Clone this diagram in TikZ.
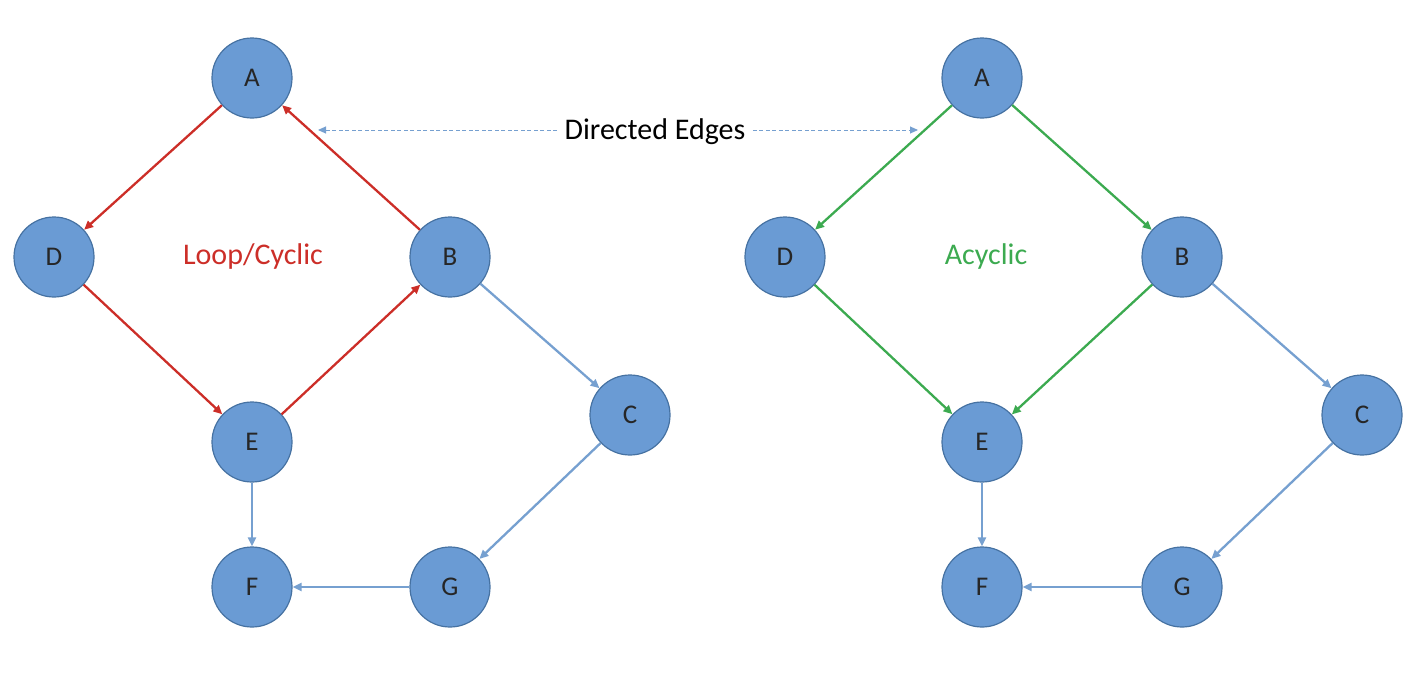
\documentclass[tikz,border=0pt]{standalone}
\usepackage{fontspec}
\setmainfont{Carlito}
\usepackage{tikz}
\usetikzlibrary{arrows.meta, positioning}
\definecolor{nodeblue}{RGB}{106,155,212}
\definecolor{nodeline}{RGB}{70,114,162}
\definecolor{edgeblue}{RGB}{118,160,208}
\definecolor{loopred}{RGB}{204,46,40}
\definecolor{okgreen}{RGB}{60,170,80}
\tikzstyle{vertex} = [circle, minimum size=80pt, inner sep=0pt, draw=nodeline, line width=1.2pt, fill=nodeblue, text=black!85, font={\fontsize{27pt}{30}\selectfont}]
\tikzstyle{edge} = [line width=2.3pt, -{Triangle[length=9pt, width=8pt]}]
\tikzstyle{redge} = [edge, draw=loopred, -{Triangle[length=9pt, width=8pt, fill=loopred]}]
\tikzstyle{gedge} = [edge, draw=okgreen, -{Triangle[length=9pt, width=8pt, fill=okgreen]}]
\tikzstyle{bedge} = [edge, draw=edgeblue, -{Triangle[length=9pt, width=8pt, fill=edgeblue]}]
\tikzstyle{hint} = [dash pattern=on 4pt off 2.5pt, line width=0.9pt, draw=edgeblue, -{Triangle[length=8pt, width=7pt, fill=edgeblue]}]
\tikzset{
  font={\fontsize{30pt}{34}\selectfont}}

\begin{document}
\begin{tikzpicture}[x=1pt, y=-1pt, node distance=100pt, on grid]
    \useasboundingbox (0,0) rectangle (1426,694);

    % cyclic graph
    \node (lA) [vertex] at (252,78) {A};
    \node (lD) [vertex, below left=179pt and 198pt of lA] {D};
    \node (lB) [vertex, below right=179pt and 198pt of lA] {B};
    \node (lE) [vertex, below=364pt of lA] {E};
    \node (lC) [vertex, below right=158pt and 180pt of lB] {C};
    \node (lF) [vertex, below=145pt of lE] {F};
    \node (lG) [vertex, right=198pt of lF] {G};
    \node (loop) [text=loopred] at (253,256) {Loop/Cyclic};

    \draw [redge] (lA) -- (lD);
    \draw [redge] (lB) -- (lA);
    \draw [redge] (lD) -- (lE);
    \draw [redge] (lE) -- (lB);
    \draw [bedge] (lB) -- (lC);
    \draw [bedge] (lC) -- (lG);
    \draw [bedge] (lG) -- (lF);
    \draw [bedge] (lE) -- (lF);

    % acyclic graph
    \node (rA) [vertex] at (982,78) {A};
    \node (rD) [vertex, below left=179pt and 197pt of rA] {D};
    \node (rB) [vertex, below right=179pt and 200pt of rA] {B};
    \node (rE) [vertex, below=364pt of rA] {E};
    \node (rC) [vertex, below right=158pt and 180pt of rB] {C};
    \node (rF) [vertex, below=145pt of rE] {F};
    \node (rG) [vertex, right=200pt of rF] {G};
    \node (acyc) [text=okgreen] at (986,256) {Acyclic};

    \draw [gedge] (rA) -- (rD);
    \draw [gedge] (rA) -- (rB);
    \draw [gedge] (rD) -- (rE);
    \draw [gedge] (rB) -- (rE);
    \draw [bedge] (rB) -- (rC);
    \draw [bedge] (rC) -- (rG);
    \draw [bedge] (rG) -- (rF);
    \draw [bedge] (rE) -- (rF);

    % label in the middle
    \node (directed) at (655,132) {Directed Edges};
    \coordinate (tipl) at (318,130);
    \coordinate (tipr) at (918,130);
    \draw [hint] (directed.west) ++(-4,-2) -- (tipl);
    \draw [hint] (directed.east) ++(4,-2) -- (tipr);
\end{tikzpicture}
\end{document}
